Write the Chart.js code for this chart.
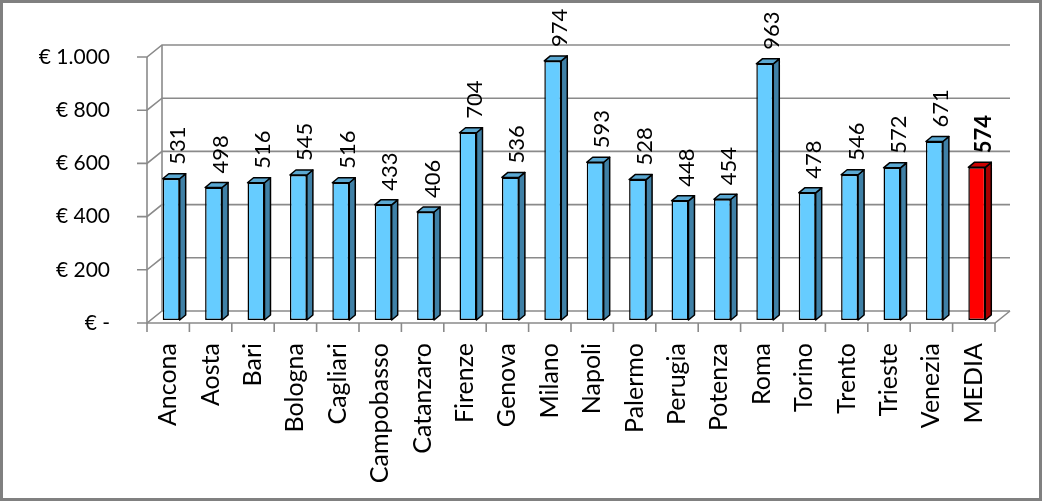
<!DOCTYPE html>
<html>
<head>
<meta charset="utf-8">
<script src="https://cdn.jsdelivr.net/npm/chart.js@4/dist/chart.umd.min.js"></script>
<style>
  html, body { margin: 0; padding: 0; background: #fff; }
  #wrap { width: 1042px; height: 501px; position: relative; }
</style>
</head>
<body>
<div id="wrap"><canvas id="chart" width="1042" height="501"></canvas></div>
<script>
// data
const cities = ['Ancona', 'Aosta', 'Bari', 'Bologna', 'Cagliari', 'Campobasso', 'Catanzaro',
  'Firenze', 'Genova', 'Milano', 'Napoli', 'Palermo', 'Perugia', 'Potenza', 'Roma',
  'Torino', 'Trento', 'Trieste', 'Venezia', 'MEDIA'];
const costs = [531, 498, 516, 545, 516, 433, 406, 704, 536, 974, 593, 528, 448, 454, 963,
  478, 546, 572, 671, 574];
const yTicks = [0, 200, 400, 600, 800, 1000];

const isAvg = cities.map(c => c === 'MEDIA');
const frontColors = isAvg.map(a => a ? '#ff0000' : '#66ccff');
const sideColors = isAvg.map(a => a ? '#a80000' : '#3f80a6');
const topColors = isAvg.map(a => a ? '#cc0000' : '#5aa8d2');

// 3d look
const WALL_DX = 15, WALL_DY = -12;   // back wall offset
const BAR_DX = 3, BAR_DY = -3;       // bars sit a bit inside
const DEPTH_X = 6, DEPTH_Y = -5;     // bar depth
const GRID = '#8a8a8a';

function fmtEuro(v) {
  if (v === 0) return '€ -';
  return '€ ' + String(v).replace(/\B(?=(\d{3})+(?!\d))/g, '.');
}

function line(ctx, pts) {
  ctx.beginPath();
  ctx.moveTo(pts[0][0], pts[0][1]);
  for (let i = 1; i < pts.length; i++) ctx.lineTo(pts[i][0], pts[i][1]);
  ctx.stroke();
}

const wallPlugin = {
  id: 'wall',
  beforeDatasetsDraw(chart) {
    const { ctx, chartArea: a, scales } = chart;
    const y = scales.y, x = scales.x;
    ctx.save();
    ctx.strokeStyle = GRID;
    ctx.lineWidth = 1.6;
    yTicks.forEach(v => {
      const py = y.getPixelForValue(v);
      line(ctx, [[a.left - 10, py], [a.left, py], [a.left + WALL_DX, py + WALL_DY], [a.right + WALL_DX, py + WALL_DY]]);
    });
    // back wall left edge, front axis, floor
    line(ctx, [[a.left + WALL_DX, a.top + WALL_DY], [a.left + WALL_DX, a.bottom + WALL_DY]]);
    line(ctx, [[a.left, a.top], [a.left, a.bottom], [a.right, a.bottom], [a.right + WALL_DX, a.bottom + WALL_DY]]);
    // category ticks
    const step = (a.right - a.left) / cities.length;
    for (let i = 0; i <= cities.length; i++) {
      const px = x.getPixelForValue(0) - step / 2 + i * step;
      line(ctx, [[px, a.bottom], [px, a.bottom + 9]]);
    }
    ctx.restore();
    ctx.save();
    ctx.translate(BAR_DX, BAR_DY);
  },
  afterDatasetsDraw(chart) {
    const { ctx } = chart;
    const meta = chart.getDatasetMeta(0);
    ctx.lineWidth = 1.5;
    ctx.strokeStyle = '#000';
    ctx.lineJoin = 'round';
    meta.data.forEach((bar, i) => {
      const l = bar.x - bar.width / 2, r = bar.x + bar.width / 2;
      const t = bar.y, b = bar.base;
      ctx.fillStyle = sideColors[i];
      ctx.beginPath();
      ctx.moveTo(r, t); ctx.lineTo(r + DEPTH_X, t + DEPTH_Y);
      ctx.lineTo(r + DEPTH_X, b + DEPTH_Y); ctx.lineTo(r, b); ctx.closePath();
      ctx.fill(); ctx.stroke();
      ctx.fillStyle = topColors[i];
      ctx.beginPath();
      ctx.moveTo(l, t); ctx.lineTo(l + DEPTH_X, t + DEPTH_Y);
      ctx.lineTo(r + DEPTH_X, t + DEPTH_Y); ctx.lineTo(r, t); ctx.closePath();
      ctx.fill(); ctx.stroke();

      // value label, rotated
      ctx.save();
      ctx.translate(bar.x + 7, t - 14);
      ctx.rotate(-Math.PI / 2);
      ctx.fillStyle = '#000';
      ctx.font = (isAvg[i] ? 'bold ' : '') + '22px Lato';
      ctx.textAlign = 'left';
      ctx.textBaseline = 'middle';
      ctx.fillText(String(costs[i]), 0, 0);
      ctx.restore();
    });
    ctx.restore();
  },
  afterDraw(chart) {
    const { ctx } = chart;
    ctx.save();
    ctx.strokeStyle = '#808080';
    ctx.lineWidth = 3;
    ctx.strokeRect(1.5, 1.5, 1039, 498);
    ctx.restore();
  }
};

new Chart(document.getElementById('chart'), {
  type: 'bar',
  data: {
    labels: cities,
    datasets: [{
      data: costs,
      backgroundColor: frontColors,
      borderColor: '#000',
      borderWidth: 1.5,
      borderSkipped: false,
      barPercentage: 0.4,
      categoryPercentage: 1,
      clip: false
    }]
  },
  options: {
    responsive: false,
    animation: false,
    layout: { padding: { left: 0, right: 47, top: 57, bottom: 0 } },
    plugins: { legend: { display: false }, tooltip: { enabled: false } },
    scales: {
      y: {
        min: 0,
        max: 1000,
        afterFit(s) { s.width = 147; },
        afterBuildTicks(s) { s.ticks = yTicks.map(v => ({ value: v })); },
        grid: { display: false, drawTicks: false },
        border: { display: false },
        ticks: {
          padding: 37,
          color: '#000',
          font: { family: 'Lato', size: 21 },
          callback: v => fmtEuro(v)
        }
      },
      x: {
        afterFit(s) { s.height = 178; },
        grid: { display: false, drawTicks: false },
        border: { display: false },
        ticks: {
          autoSkip: false,
          minRotation: 90,
          maxRotation: 90,
          padding: 20,
          color: '#000',
          font: { family: 'Lato', size: 25 }
        }
      }
    }
  },
  plugins: [wallPlugin]
});
</script>
</body>
</html>
